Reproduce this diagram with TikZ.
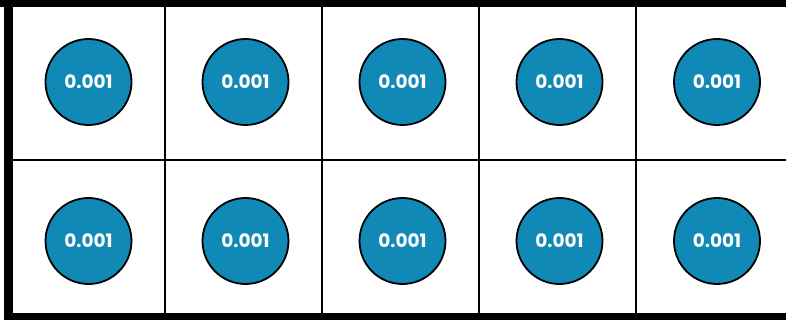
\documentclass[tikz,border=0pt]{standalone}
\usepackage{fontspec}
\setmainfont{Poppins}
\usepackage{tikz}
\usetikzlibrary{positioning}

\definecolor{chipblue}{HTML}{1189B6}

\begin{document}
\begin{tikzpicture}[
        x=1pt, y=-1pt, % one unit is one pixel of the reference
        chip/.style={draw=black, line width=1.8pt, circle, fill=chipblue, minimum size=86pt, inner sep=0pt, text=white, font=\bfseries\fontsize{18.5}{18.5}\selectfont},
        gridline/.style={line width=2.6pt},
        band/.style={fill=black, draw=none}
    ]

    \useasboundingbox (0,0) rectangle (786,320);

    % --- Frame ---
    \fill[band] (0,0) rectangle (786,7);
    \fill[band] (4,0) rectangle (13,320);
    \fill[band] (4,313) rectangle (786,320);

    % --- Grid ---
    \coordinate (v1t) at (165,7);   \coordinate (v1b) at (165,313);
    \coordinate (v2t) at (322,7);   \coordinate (v2b) at (322,313);
    \coordinate (v3t) at (479,7);   \coordinate (v3b) at (479,313);
    \coordinate (v4t) at (636,7);   \coordinate (v4b) at (636,313);
    \coordinate (hl) at (13,160);   \coordinate (hr) at (786,160);
    \draw[gridline] (v1t) -- (v1b);
    \draw[gridline] (v2t) -- (v2b);
    \draw[gridline] (v3t) -- (v3b);
    \draw[gridline] (v4t) -- (v4b);
    \draw[gridline] (hl) -- (hr);

    % --- Top row ---
    \node[chip] (t1) at (88.5,82) {0.001};
    \node[chip] (t2) at (245.5,82) {0.001};
    \node[chip] (t3) at (402.5,82) {0.001};
    \node[chip] (t4) at (559.5,82) {0.001};
    \node[chip] (t5) at (717,82) {0.001};

    % --- Bottom row ---
    \node[chip] (b1) at (88.5,241) {0.001};
    \node[chip] (b2) at (245.5,241) {0.001};
    \node[chip] (b3) at (402.5,241) {0.001};
    \node[chip] (b4) at (559.5,241) {0.001};
    \node[chip] (b5) at (717,241) {0.001};

\end{tikzpicture}
\end{document}
